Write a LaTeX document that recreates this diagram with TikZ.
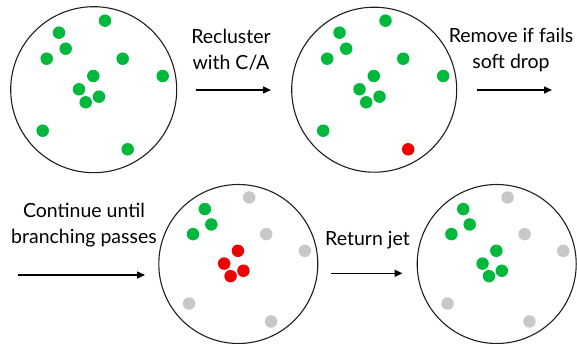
\documentclass[tikz,border=0pt]{standalone}
\usepackage{fontspec}
\setmainfont{Lato}
\usetikzlibrary{arrows.meta}
\definecolor{dg}{RGB}{0,185,60}
\definecolor{dr}{RGB}{238,0,0}
\definecolor{dgr}{RGB}{200,200,200}
\definecolor{ringc}{RGB}{30,30,30}
\tikzset{
  dot/.style={circle,inner sep=0pt,minimum size=12.5pt},
  ring/.style={circle,draw=ringc,line width=1.1pt,inner sep=0pt},
  lbl/.style={align=center,font=\fontsize{19.5}{26.5}\selectfont},
  flow/.style={line width=1.4pt,-{Triangle[length=8pt,width=7pt]}}
}
\newcommand\jetdots[3]{% #1 center, #2 scale, #3 colour array
  \begin{scope}[shift={#1},scale=#2]
    \foreach \p [count=\i from 0] in {(11.3,-69),(-34.7,-57),(-28,-41),(-47,-31),(29,-31),(69,-13.7),(-0.4,-13.7),(-14.7,-0.4),(5.3,7),(-8,12.6),(-51,41),(34,59.6)}{
      \pgfmathsetmacro\dotc{#3[\i]}
      \node[dot,fill=\dotc] at \p {};
    }
  \end{scope}
}
\begin{document}
\begin{tikzpicture}[x=1pt,y=-1pt]
  \useasboundingbox (0,0) rectangle (577,344);
  % circles
  \node[ring,minimum size=166pt] (c1) at (93.7,89.7) {};
  \node[ring,minimum size=165pt] (c2) at (374.2,89.7) {};
  \node[ring,minimum size=159pt] (c3) at (238.3,264) {};
  \node[ring,minimum size=159pt] (c4) at (496.7,264) {};
  \jetdots{(c1.center)}{1}{{"dg","dg","dg","dg","dg","dg","dg","dg","dg","dg","dg","dg"}}
  \jetdots{(c2.center)}{1}{{"dg","dg","dg","dg","dg","dg","dg","dg","dg","dg","dg","dr"}}
  \jetdots{(c3.center)}{0.964}{{"dgr","dg","dg","dg","dgr","dgr","dr","dr","dr","dr","dgr","dgr"}}
  \jetdots{(c4.center)}{0.964}{{"dgr","dg","dg","dg","dgr","dgr","dg","dg","dg","dg","dgr","dgr"}}
  % labels
  \node[lbl] (t1) at (231,50) {Recluster\\with C/A};
  \node[lbl] (t2) at (511,50) {Remove if fails\\soft drop};
  \node[lbl] (t3) at (84,225) {Continue until\\branching passes};
  \node[lbl] (t4) at (367.5,240) {Return jet};
  % arrows
  \coordinate (a1s) at (196,90);   \coordinate (a1e) at (271,90);
  \coordinate (a2s) at (477,90);   \coordinate (a2e) at (552,90);
  \coordinate (a3s) at (18,275);   \coordinate (a3e) at (145,275);
  \coordinate (a4s) at (331,273.3); \coordinate (a4e) at (402.5,273.3);
  \draw[flow] (a1s) -- (a1e);
  \draw[flow] (a2s) -- (a2e);
  \draw[flow] (a3s) -- (a3e);
  \draw[flow] (a4s) -- (a4e);
\end{tikzpicture}
\end{document}
